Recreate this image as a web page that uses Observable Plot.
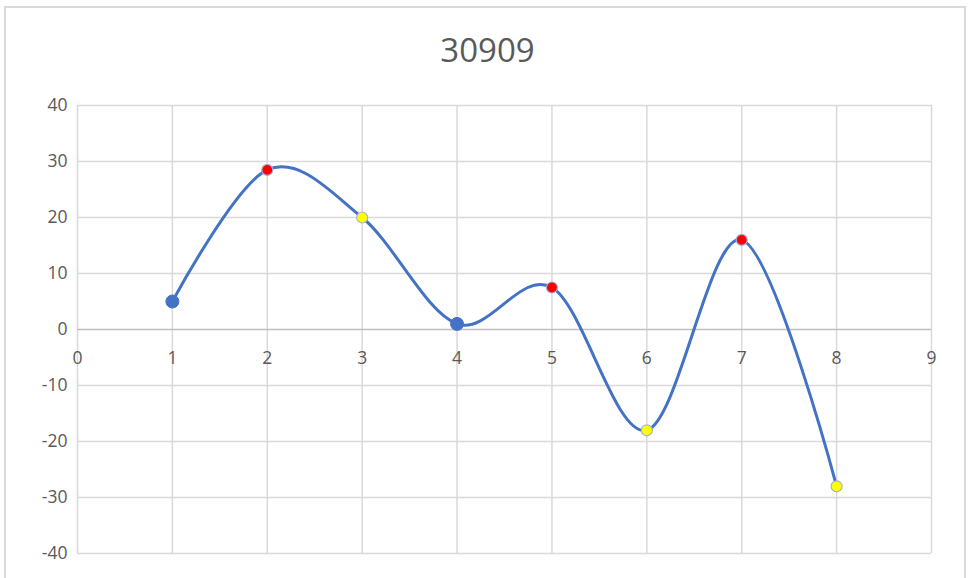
<!DOCTYPE html>
<html>
<head>
<meta charset="utf-8">
<script src="https://cdn.jsdelivr.net/npm/d3@7"></script>
<script src="https://cdn.jsdelivr.net/npm/@observablehq/plot@0.6"></script>
<style>
  html, body { margin: 0; padding: 0; background: #fff; }
  #wrap { position: relative; width: 968px; height: 578px; overflow: hidden; }
  #frame {
    position: absolute; left: 4px; top: 6px; width: 962px; height: 600px;
    border: 2px solid #d9d9d9; box-sizing: border-box;
  }
  #chart { position: absolute; left: 0; top: 0; }
</style>
</head>
<body>
<div id="wrap">
  <div id="frame"></div>
  <div id="chart"></div>
</div>
<script>
// Series: x positions, y values and marker fills
const xs = [1, 2, 3, 4, 5, 6, 7, 8];
const ys = [5, 28.5, 20, 1, 7.5, -18, 16, -28];
const fills = ["#4472c4", "#ff0000", "#ffff00", "#4472c4", "#ff0000", "#ffff00", "#ff0000", "#ffff00"];

// Axis ticks
const xTicks = [0, 1, 2, 3, 4, 5, 6, 7, 8, 9];
const yTicks = [-40, -30, -20, -10, 0, 10, 20, 30, 40];

const title = "30909";

const points = xs.map((x, i) => ({x, y: ys[i], fill: fills[i]}));
const isBlue = d => d.fill === "#4472c4";

const font = "Open Sans, Liberation Sans, sans-serif";

const plot = Plot.plot({
  width: 968,
  height: 578,
  marginLeft: 77,
  marginRight: 37,
  marginTop: 105,
  marginBottom: 25,
  style: {fontFamily: font, background: "transparent", overflow: "visible"},
  x: {domain: [0, 9], axis: null},
  y: {domain: [-40, 40], axis: null},
  marks: [
    // grid
    Plot.ruleY(yTicks.filter(d => d !== 0), {stroke: "#d9d9d9", strokeWidth: 1.5, strokeOpacity: 1}),
    Plot.ruleX(xTicks, {stroke: "#d9d9d9", strokeWidth: 1.5, strokeOpacity: 1}),
    Plot.ruleY([0], {stroke: "#bfbfbf", strokeWidth: 1.5, strokeOpacity: 1}),
    // y tick labels
    Plot.text(yTicks, {
      x: 0, y: d => d, text: d => String(d), frameAnchor: "left",
      textAnchor: "end", dx: -10, fontSize: 17.5, fill: "#595959"
    }),
    // x tick labels along the zero line
    Plot.text(xTicks, {
      x: d => d, y: 0, text: d => String(d), dy: 29,
      fontSize: 17.5, fill: "#595959"
    }),
    // smoothed series line
    Plot.line(points, {x: "x", y: "y", curve: "cardinal", stroke: "#4472c4", strokeWidth: 3}),
    // markers: plain blue ones, then the highlighted red / yellow ones
    Plot.dot(points.filter(isBlue), {
      x: "x", y: "y", r: 6.5, fill: "#4472c4", stroke: "#4472c4", strokeWidth: 1
    }),
    Plot.dot(points.filter(d => !isBlue(d)), {
      x: "x", y: "y", r: 5.5, fill: d => d.fill, stroke: "#9fb3d9", strokeWidth: 1.2
    }),
    // title
    Plot.text([title], {
      frameAnchor: "top", text: d => d, dx: -17, dy: -67, fontSize: 33, fill: "#595959"
    })
  ]
});

document.getElementById("chart").appendChild(plot);
</script>
</body>
</html>
